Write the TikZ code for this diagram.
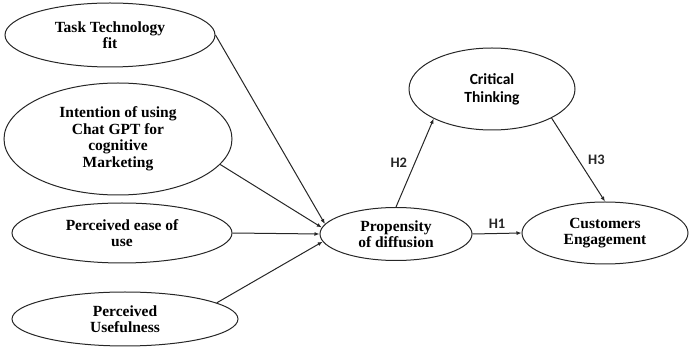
\documentclass[tikz,border=0pt]{standalone}
\usepackage{fontspec}
\setmainfont{Liberation Serif}
\newfontfamily\labelfont{Carlito}
\usetikzlibrary{shapes.geometric,arrows.meta}
\begin{document}
\begin{tikzpicture}[x=1pt,y=-1pt,
  construct/.style={ellipse,draw=black!85,line width=1pt,inner sep=0pt,align=center,
    font=\fontsize{15.5}{16.5}\selectfont\bfseries},
  link/.style={draw=black!85,line width=1pt,-{Latex[length=5pt,width=4pt]}},
  hyp/.style={font=\labelfont\fontsize{14.5}{16}\selectfont\bfseries,text=black!85}]
\useasboundingbox (0,0) rectangle (689,347);
% exogenous constructs
\node[construct,minimum width=210pt,minimum height=64pt] (ttf) at (110,35) {Task Technology\\fit};
\node[construct,minimum width=228pt,minimum height=112pt] (int) at (118,139) {Intention of using\\Chat GPT for\\cognitive\\Marketing};
\node[construct,minimum width=220pt,minimum height=60pt] (peou) at (122,233) {Perceived ease of\\use};
\node[construct,minimum width=226pt,minimum height=54pt] (pu) at (125,319) {Perceived\\Usefulness};
% mediator and outcomes
\node[construct,minimum width=152pt,minimum height=53pt] (prop) at (396,234) {Propensity\\of diffusion};
\node[construct,minimum width=166pt,minimum height=62pt] (cust) at (605,233) {Customers\\Engagement};
\node[construct,minimum width=166pt,minimum height=82pt,font=\labelfont\fontsize{15.5}{18}\selectfont\bfseries] (crit) at (492,89) {Critical\\Thinking};
% paths into the mediator
\draw[link] (ttf.east) -- (prop.172);
\draw[link] (int.-14) -- (prop.175);
\draw[link] (peou.east) -- (prop.180);
\draw[link] (pu.10) -- (prop.186);
% hypothesised paths
\draw[link] (prop.east) -- node[hyp,above=1pt] {H1} (cust.west);
\draw[link] (prop.north) -- node[hyp,left=4pt] {H2} (crit.207);
\draw[link] (crit.-26) -- node[hyp,right=6pt] {H3} (cust.north);
\end{tikzpicture}
\end{document}
